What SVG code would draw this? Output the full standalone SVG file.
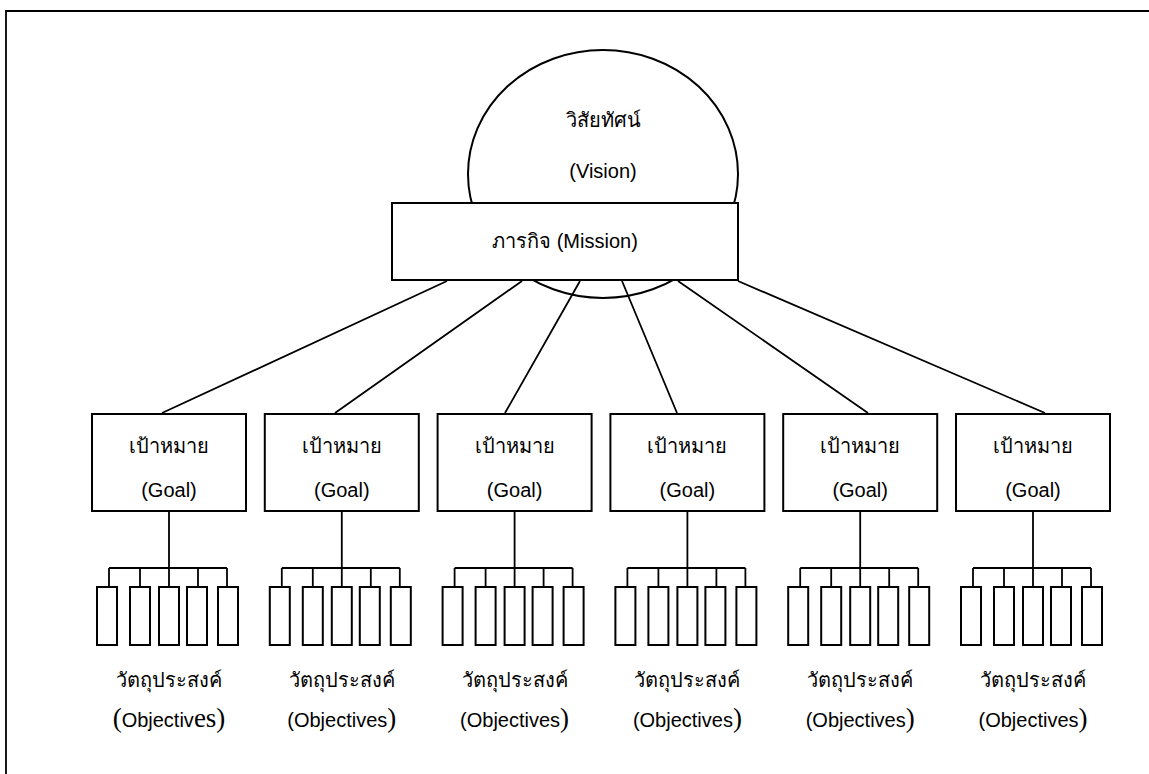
<svg xmlns="http://www.w3.org/2000/svg" width="1149" height="774" viewBox="0 0 1149 774">
<style>
.bx{fill:#fff;stroke:#000;stroke-width:2}
.ln{stroke:#000;stroke-width:1.8;fill:none}
.t{font-family:"Liberation Sans","DejaVu Sans",sans-serif;font-size:20px;fill:#000;text-anchor:middle}
.s{font-family:"Liberation Serif",serif;font-size:27px}
</style>
<rect width="1149" height="774" fill="#fff"/>
<path class="ln" d="M6 774V11H1149" stroke-width="2.5"/>
<g id="vision">
<ellipse class="bx" cx="603" cy="174" rx="135" ry="124"/>
<text class="t" x="603" y="127">วิสัยทัศน์</text>
<text class="t" x="603" y="178">(Vision)</text>
</g>
<g id="connectors">
<path class="ln" d="M447 281L162 413M522 281L335 413M580 281L505 413M622 281L677 413M678 281L868 413M738 281L1045 413"/>
<path class="ln" d="M169 511V568M109 568H227M109 568V587M140 568V587M169 568V587M198 568V587M227 568V587"/>
<path class="ln" d="M341.8 511V568M281.8 568H399.8M281.8 568V587M312.8 568V587M341.8 568V587M370.8 568V587M399.8 568V587"/>
<path class="ln" d="M514.6 511V568M454.6 568H572.6M454.6 568V587M485.6 568V587M514.6 568V587M543.6 568V587M572.6 568V587"/>
<path class="ln" d="M687.4 511V568M627.4 568H745.4M627.4 568V587M658.4 568V587M687.4 568V587M716.4 568V587M745.4 568V587"/>
<path class="ln" d="M860.2 511V568M800.2 568H918.2M800.2 568V587M831.2 568V587M860.2 568V587M889.2 568V587M918.2 568V587"/>
<path class="ln" d="M1033 511V568M973 568H1091M973 568V587M1004 568V587M1033 568V587M1062 568V587M1091 568V587"/>
</g>
<g id="mission">
<rect class="bx" x="392" y="203" width="346" height="77"/>
<text class="t" x="565" y="248">ภารกิจ (Mission)</text>
</g>
<g id="goal1"><rect class="bx" x="92" y="414" width="154" height="97"/><text class="t" x="169" y="453">เป้าหมาย</text><text class="t" x="169" y="497">(Goal)</text></g>
<g id="goal2"><rect class="bx" x="264.8" y="414" width="154" height="97"/><text class="t" x="341.8" y="453">เป้าหมาย</text><text class="t" x="341.8" y="497">(Goal)</text></g>
<g id="goal3"><rect class="bx" x="437.6" y="414" width="154" height="97"/><text class="t" x="514.6" y="453">เป้าหมาย</text><text class="t" x="514.6" y="497">(Goal)</text></g>
<g id="goal4"><rect class="bx" x="610.4" y="414" width="154" height="97"/><text class="t" x="687.4" y="453">เป้าหมาย</text><text class="t" x="687.4" y="497">(Goal)</text></g>
<g id="goal5"><rect class="bx" x="783.2" y="414" width="154" height="97"/><text class="t" x="860.2" y="453">เป้าหมาย</text><text class="t" x="860.2" y="497">(Goal)</text></g>
<g id="goal6"><rect class="bx" x="956" y="414" width="154" height="97"/><text class="t" x="1033" y="453">เป้าหมาย</text><text class="t" x="1033" y="497">(Goal)</text></g>
<g id="obj1">
<rect class="bx" x="97" y="587" width="20" height="58"/><rect class="bx" x="130" y="587" width="20" height="58"/><rect class="bx" x="159" y="587" width="20" height="58"/><rect class="bx" x="187" y="587" width="20" height="58"/><rect class="bx" x="218" y="587" width="20" height="58"/>
<text class="t" x="169" y="687">วัตถุประสงค์</text>
<text class="t" x="169" y="727"><tspan class="s">(</tspan>Objectiv<tspan class="s">es)</tspan></text>
</g>
<g id="obj2">
<rect class="bx" x="269.8" y="587" width="20" height="58"/><rect class="bx" x="302.8" y="587" width="20" height="58"/><rect class="bx" x="331.8" y="587" width="20" height="58"/><rect class="bx" x="359.8" y="587" width="20" height="58"/><rect class="bx" x="390.8" y="587" width="20" height="58"/>
<text class="t" x="341.8" y="687">วัตถุประสงค์</text>
<text class="t" x="341.8" y="727">(Objectives<tspan class="s">)</tspan></text>
</g>
<g id="obj3">
<rect class="bx" x="442.6" y="587" width="20" height="58"/><rect class="bx" x="475.6" y="587" width="20" height="58"/><rect class="bx" x="504.6" y="587" width="20" height="58"/><rect class="bx" x="532.6" y="587" width="20" height="58"/><rect class="bx" x="563.6" y="587" width="20" height="58"/>
<text class="t" x="514.6" y="687">วัตถุประสงค์</text>
<text class="t" x="514.6" y="727">(Objectives<tspan class="s">)</tspan></text>
</g>
<g id="obj4">
<rect class="bx" x="615.4" y="587" width="20" height="58"/><rect class="bx" x="648.4" y="587" width="20" height="58"/><rect class="bx" x="677.4" y="587" width="20" height="58"/><rect class="bx" x="705.4" y="587" width="20" height="58"/><rect class="bx" x="736.4" y="587" width="20" height="58"/>
<text class="t" x="687.4" y="687">วัตถุประสงค์</text>
<text class="t" x="687.4" y="727">(Objectives<tspan class="s">)</tspan></text>
</g>
<g id="obj5">
<rect class="bx" x="788.2" y="587" width="20" height="58"/><rect class="bx" x="821.2" y="587" width="20" height="58"/><rect class="bx" x="850.2" y="587" width="20" height="58"/><rect class="bx" x="878.2" y="587" width="20" height="58"/><rect class="bx" x="909.2" y="587" width="20" height="58"/>
<text class="t" x="860.2" y="687">วัตถุประสงค์</text>
<text class="t" x="860.2" y="727">(Objectives<tspan class="s">)</tspan></text>
</g>
<g id="obj6">
<rect class="bx" x="961" y="587" width="20" height="58"/><rect class="bx" x="994" y="587" width="20" height="58"/><rect class="bx" x="1023" y="587" width="20" height="58"/><rect class="bx" x="1051" y="587" width="20" height="58"/><rect class="bx" x="1082" y="587" width="20" height="58"/>
<text class="t" x="1033" y="687">วัตถุประสงค์</text>
<text class="t" x="1033" y="727">(Objectives<tspan class="s">)</tspan></text>
</g>
</svg>
